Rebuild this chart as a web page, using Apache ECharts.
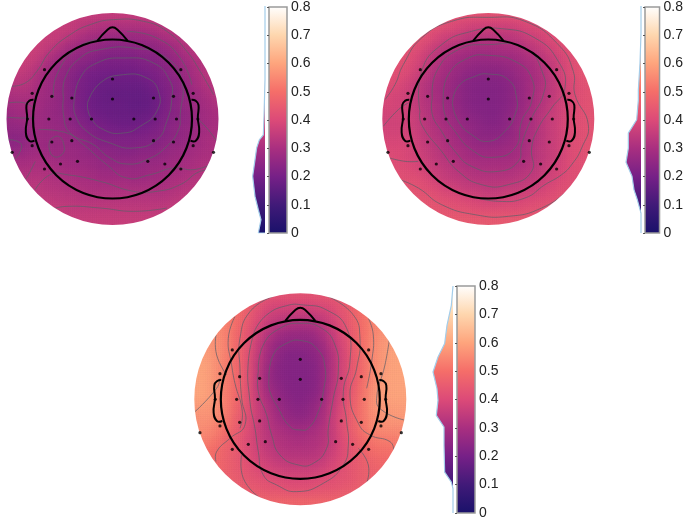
<!DOCTYPE html>
<html>
<head>
<meta charset="utf-8">
<title>topoplots</title>
<script src="https://cdn.jsdelivr.net/npm/echarts@6/dist/echarts.min.js"></script>
<style>
  html, body { margin: 0; padding: 0; background: #fff; }
  #main { width: 686px; height: 521px; }
</style>
</head>
<body>
<div id="main"></div>
<script>
// colour scale of the bars, bottom to top, one colour per 0.1
const scaleColors = ['#19116a', '#401a78', '#762087', '#a92f80', '#dc4a78', '#f56e69', '#fea57d', '#fed7af', '#ffffff'];

// scalp values in hundredths, 21 x 21 cells, top row first
const field1 = [
  [36,36,36,36,36,36,36,36,36,36,36,36,36,36,36,36,36,36,36,36,36],
  [36,36,36,36,36,36,36,35,34,33,33,33,33,33,34,34,35,36,36,36,36],
  [36,36,36,36,36,36,35,33,31,30,29,29,29,29,30,32,33,34,35,36,36],
  [37,37,37,37,36,34,31,29,27,26,25,25,25,26,26,28,30,33,34,35,36],
  [37,37,37,36,33,30,27,26,25,24,23,23,23,24,24,25,27,30,33,34,35],
  [37,37,36,34,30,27,26,24,23,21,21,21,21,22,23,24,26,28,31,33,34],
  [36,35,34,31,28,26,24,22,20,20,19,19,19,20,21,23,25,27,30,33,34],
  [32,33,33,30,28,26,24,21,20,18,18,18,18,18,20,22,24,26,29,32,33],
  [31,31,31,29,28,26,24,21,19,18,17,17,17,17,18,21,24,26,28,30,33],
  [29,29,30,29,27,26,24,21,19,18,18,18,17,17,18,21,24,26,28,29,31],
  [27,28,29,28,27,26,25,22,20,19,18,18,18,18,19,22,24,25,27,29,30],
  [26,26,27,28,27,27,25,24,22,21,20,19,19,20,21,23,25,26,27,29,30],
  [25,24,26,28,27,27,27,25,24,22,22,22,22,22,23,24,25,26,28,30,31],
  [26,25,27,28,27,27,27,27,25,24,24,23,23,24,24,25,27,27,29,30,31],
  [29,29,29,30,29,28,28,27,27,26,25,25,25,26,26,27,28,29,30,31,31],
  [31,31,31,31,31,30,29,29,28,27,27,27,27,27,28,28,29,30,31,32,32],
  [33,33,33,33,32,31,31,30,30,29,29,29,28,28,29,29,31,31,33,33,33],
  [34,34,34,34,33,33,32,32,31,31,31,31,31,31,31,31,32,33,34,34,34],
  [35,35,35,35,35,34,34,33,33,33,33,33,33,33,33,33,34,35,35,35,35],
  [36,36,36,36,36,36,35,35,35,35,35,35,35,35,35,35,36,36,36,36,36],
  [36,36,36,36,36,36,36,36,36,36,36,36,36,36,36,36,36,36,36,36,36]
];
const field2 = [
  [44,44,44,44,44,44,44,44,44,44,44,44,44,44,44,44,44,44,44,44,44],
  [44,44,44,44,44,44,43,41,40,39,39,39,39,40,41,42,44,44,44,44,44],
  [44,44,44,44,43,41,39,38,36,35,35,35,35,36,38,39,41,43,44,44,44],
  [44,44,44,43,41,38,35,34,32,31,31,31,32,33,35,37,39,42,43,44,44],
  [44,44,43,41,38,34,32,30,29,28,28,29,29,30,32,34,37,39,42,43,44],
  [43,43,42,40,36,33,30,28,27,26,26,26,27,28,30,32,35,38,41,43,44],
  [43,42,41,38,35,31,29,27,25,24,24,24,25,27,29,31,34,38,41,43,44],
  [42,41,39,36,33,30,28,26,24,23,23,23,24,26,29,31,34,37,40,42,43],
  [40,39,38,36,33,30,28,26,24,23,23,23,24,26,29,32,34,37,40,42,43],
  [39,39,38,36,33,31,28,26,24,23,23,23,24,26,29,32,35,38,40,42,43],
  [38,38,38,37,34,31,29,27,25,24,23,23,25,27,30,33,36,38,41,42,43],
  [38,38,38,37,34,32,30,28,26,25,24,24,25,28,30,33,36,38,41,42,43],
  [39,39,39,38,35,33,31,29,27,25,25,25,26,28,31,33,36,38,41,42,43],
  [40,40,40,38,36,34,32,30,29,27,27,27,28,29,31,34,36,38,41,42,43],
  [41,41,40,39,37,35,33,32,30,29,29,29,29,30,32,34,36,38,41,42,43],
  [42,42,41,40,38,36,35,33,32,31,31,31,31,32,33,35,37,39,41,42,43],
  [43,43,42,42,41,38,36,35,34,33,33,33,33,34,35,36,38,40,42,42,43],
  [44,44,44,43,42,41,39,38,36,36,35,35,36,36,37,38,40,42,42,43,43],
  [44,44,44,44,44,43,42,41,40,39,38,38,39,39,40,41,42,43,43,44,44],
  [44,44,44,44,44,44,44,43,43,42,42,42,42,42,43,43,44,44,44,44,44],
  [45,45,45,45,45,45,45,45,45,45,45,45,45,45,45,45,45,45,45,45,45]
];
const field3 = [
  [55,55,55,55,53,50,47,45,44,44,44,44,44,45,47,50,53,55,55,55,55],
  [56,56,56,55,52,48,44,41,40,40,40,40,41,42,44,47,51,55,56,56,56],
  [56,56,56,54,50,46,42,38,37,36,36,36,37,39,43,46,50,54,56,56,56],
  [57,57,56,54,50,45,40,36,33,32,31,31,33,37,41,46,50,54,56,57,57],
  [58,57,56,54,49,44,38,33,29,27,27,27,30,35,40,45,50,54,57,58,58],
  [59,58,57,54,49,44,37,30,26,25,25,25,27,33,39,45,50,55,58,59,59],
  [60,59,57,54,49,43,36,29,25,23,23,24,26,31,38,44,49,55,58,60,60],
  [60,60,57,53,49,43,35,28,24,23,23,23,25,31,38,44,49,55,58,60,60],
  [60,60,57,53,49,43,35,27,24,23,23,23,25,31,38,44,49,55,59,60,60],
  [60,60,57,53,49,43,35,28,25,23,23,23,25,32,38,44,50,56,59,60,60],
  [60,60,57,53,49,43,36,30,26,24,23,24,26,33,39,45,51,57,59,60,60],
  [58,58,57,53,48,43,37,32,27,25,24,25,28,34,40,46,51,57,58,59,59],
  [57,57,56,52,47,42,37,33,29,26,25,26,29,35,41,46,51,56,57,58,58],
  [56,56,54,50,46,42,37,33,31,29,28,29,31,35,41,46,51,55,56,56,56],
  [55,54,52,48,45,41,37,34,32,31,30,31,32,35,40,45,49,52,53,53,54],
  [53,51,50,47,45,41,38,35,33,32,32,32,33,36,40,44,47,50,51,51,51],
  [51,50,49,47,45,42,39,37,35,34,34,34,35,38,41,44,46,48,49,49,49],
  [50,49,49,47,45,43,41,39,38,37,37,37,38,40,42,44,46,47,48,48,48],
  [49,49,48,47,46,44,43,42,41,40,40,40,41,42,43,44,46,47,47,47,47],
  [49,49,48,47,47,46,45,44,44,43,43,43,44,44,45,46,47,47,47,47,47],
  [48,48,48,48,48,48,48,48,48,48,48,48,48,48,48,48,48,48,48,48,48]
];

// contour lines, read in crop units (3 per pixel, y down)
const contours1 = [
  [[262,265],[300,205],[370,180],[440,190],[475,230],[470,290],[420,335],[370,355],[310,345],[270,305],[262,265]],
  [[222,260],[240,190],[290,145],[370,130],[460,145],[510,200],[515,250],[500,320],[470,375],[400,400],[330,385],[260,350],[225,300],[222,260]],
  [[190,250],[195,190],[240,130],[300,105],[400,100],[500,130],[545,200],[540,300],[535,345],[500,395],[440,435],[380,448],[330,430],[280,390],[210,355],[190,300],[190,250]],
  [[160,250],[170,180],[230,100],[290,75]],
  [[380,50],[470,70],[540,130],[575,210]],
  [[35,215],[75,205],[110,170],[150,110],[210,60],[270,30],[340,15],[430,20],[500,50],[560,110],[600,170],[640,240]],
  [[25,265],[75,265],[105,285]],
  [[22,308],[60,310],[105,310]],
  [[22,375],[60,385],[60,410],[40,435],[25,440]],
  [[150,375],[175,365],[192,395],[185,420],[160,425],[147,400],[150,375]],
  [[115,345],[200,355],[250,390],[320,450],[380,490],[450,480],[520,460],[580,465],[630,450]],
  [[105,525],[150,480],[200,480],[300,500],[400,530],[470,530],[540,510],[600,470],[640,470]],
  [[105,440],[85,480],[70,500]],
  [[150,585],[200,575],[300,580],[400,590],[500,580]],
  [[590,310],[620,340],[650,380]]
];
const contours2 = [
  [[232,265],[250,215],[300,185],[340,178],[400,195],[425,250],[420,300],[390,350],[340,380],[290,360],[250,320],[232,265]],
  [[205,250],[220,180],[280,130],[340,122],[420,140],[470,190],[470,260],[440,320],[420,400],[350,428],[290,405],[240,350],[210,300],[205,250]],
  [[172,250],[185,170],[250,105],[340,90],[450,100],[505,180],[505,240],[470,310],[440,390],[430,440],[370,470],[290,455],[240,410],[200,350],[172,300],[172,250]],
  [[135,290],[140,170],[200,90],[290,50],[380,42],[480,70],[550,140],[570,220],[530,280],[490,340],[470,400],[470,470],[400,510],[320,510],[250,470],[200,410],[140,330],[135,290]],
  [[30,255],[60,210],[85,150],[140,70],[230,20],[340,8],[450,20],[550,90],[595,170],[600,240],[640,330],[620,400],[590,450],[560,480],[510,510],[450,550],[370,560],[290,545]],
  [[25,335],[70,285],[100,265]],
  [[45,430],[90,440],[130,440]],
  [[75,495],[130,520],[200,570],[300,600],[400,605],[500,580],[590,520],[650,470]]
];
const contours3 = [
  [[237,250],[250,180],[290,145],[335,137],[380,160],[405,215],[400,290],[385,350],[355,400],[330,405],[300,395],[265,340],[240,290],[237,250]],
  [[205,230],[220,150],[270,100],[330,85],[395,100],[435,150],[445,230],[430,310],[415,400],[410,460],[370,505],[325,510],[270,480],[245,420],[230,360],[205,290],[205,230]],
  [[195,105],[230,60],[290,32],[340,30],[410,45],[470,100],[480,200],[460,290],[470,380],[475,450],[460,510],[400,565],[320,590],[260,570],[220,540],[205,470],[195,400],[180,320],[175,200],[195,105]],
  [[248,5],[180,50],[150,130],[150,220],[155,310],[165,390],[120,430],[80,470],[78,500]],
  [[415,5],[490,60],[510,130],[500,220],[480,300],[505,385],[540,420],[600,440],[612,465]],
  [[135,65],[115,130],[125,210],[135,265],[157,350],[150,400]],
  [[155,480],[160,550],[205,605]],
  [[535,70],[550,120],[545,200],[530,280]],
  [[505,460],[535,510],[530,565]],
  [[78,120],[80,180],[110,240]],
  [[15,350],[80,280],[90,250]],
  [[598,135],[585,210],[560,310],[575,345],[642,375]]
];

// value distribution next to each bar: [width in crop units, value]
const hist1 = [[0,0],[20,0],[12,0.047],[20,0.082],[30,0.129],[37,0.2],[30,0.258],[25,0.3],[17,0.328],[5,0.346],[3,0.41],[0,0.54],[0,0.8]];
const hist2 = [[0,0],[0,0.07],[11,0.117],[21,0.152],[27,0.2],[45,0.249],[38,0.299],[38,0.352],[13,0.399],[8,0.469],[8,0.504],[3,0.598],[0,0.704],[0,0.8]];
const hist3 = [[0,0],[0,0.086],[5,0.109],[25,0.144],[27,0.238],[27,0.303],[50,0.344],[45,0.397],[48,0.438],[60,0.497],[45,0.55],[25,0.597],[18,0.661],[5,0.732],[0,0.8]];

// electrodes and head outline, relative to the head centre
const electrodes = [[-204,-148],[205,-148],[0,-120],[-241,-77],[-182,-68],[-122,-63],[0,-60],[123,-63],[183,-68],[242,-77],
  [-255,0],[-191,0],[-127,0],[-63,0],[64,0],[128,0],[192,0],[256,0],
  [-182,69],[-122,65],[123,65],[183,69],[-241,80],[242,80],[-301,100],[303,100],
  [-156,135],[-105,127],[106,127],[157,135],[-204,150],[205,150]];
const nose = [[-45,-235],[-15,-268],[0,-275],[15,-268],[45,-235]];
const earLeft = [[-237,-58],[-249,-55],[-258,-42],[-256,-3],[-260,40],[-250,65],[-234,65]];
const earRight = [[237,-58],[249,-55],[258,-42],[256,-3],[260,40],[250,65],[234,65]];

const plots = [
  { field: field1, contours: contours1, hist: hist1, crop: [337, 313], cx: 112.5, cy: 119, barLeft: 269, barTop: 6 },
  { field: field2, contours: contours2, hist: hist2, crop: [340, 313], cx: 488.3, cy: 119, barLeft: 645, barTop: 6 },
  { field: field3, contours: contours3, hist: hist3, crop: [331, 313], cx: 300.3, cy: 399.3, barLeft: 457, barTop: 286 }
];

const HALF = 330;
const CELL = 660 / 21;
const OUTER = 318;
const HEAD = 238.5;
const MESH = 6.6;
const BAR_H = 227;

const chart = echarts.init(document.getElementById('main'));

const grid = [], xAxis = [], yAxis = [], series = [], fieldSeries = [];

function gradientStops() {
  return scaleColors.map(function (c, i) {
    return { offset: i / (scaleColors.length - 1), color: c };
  });
}

// curved line drawn through points given in axis units
function curve(api, points, color, width) {
  return {
    type: 'polyline',
    shape: { points: points.map(function (q) { return api.coord(q); }), smooth: 0.5, smoothConstraint: false },
    style: { fill: 'none', stroke: color, lineWidth: width }
  };
}

plots.forEach(function (p) {
  // head panel
  const g = grid.length;
  grid.push({ left: p.cx - 110, top: p.cy - 110, width: 220, height: 220 });
  xAxis.push({ type: 'value', gridIndex: g, min: -HALF, max: HALF, show: false });
  yAxis.push({ type: 'value', gridIndex: g, min: -HALF, max: HALF, inverse: true, show: false });

  const cells = [];
  p.field.forEach(function (row, j) {
    row.forEach(function (v, i) {
      const x = (i - 10) * CELL, y = (j - 10) * CELL;
      if (Math.sqrt(x * x + y * y) < OUTER + 24) cells.push([x, y, v / 100]);
    });
  });

  fieldSeries.push(series.length);
  series.push({
    type: 'custom', xAxisIndex: g, yAxisIndex: g, z: 2, silent: true, data: cells,
    encode: { x: 0, y: 1 },
    renderItem: function (params, api) {
      const c = api.coord([api.value(0), api.value(1)]);
      const s = api.size([CELL, CELL]);
      return {
        type: 'rect',
        shape: { x: c[0] - s[0] / 2 - 0.5, y: c[1] - s[1] / 2 - 0.5, width: s[0] + 1, height: s[1] + 1 },
        style: { fill: api.visual('color') }
      };
    }
  });
  // soft spots over the cells so the blocks do not show
  fieldSeries.push(series.length);
  series.push({
    type: 'custom', xAxisIndex: g, yAxisIndex: g, z: 2, silent: true, data: cells,
    encode: { x: 0, y: 1 },
    renderItem: function (params, api) {
      const c = api.coord([api.value(0), api.value(1)]);
      const r = api.size([CELL, 0])[0] * 1.5;
      const col = api.visual('color');
      return {
        type: 'circle',
        shape: { cx: c[0], cy: c[1], r: r },
        style: {
          fill: {
            type: 'radial', x: 0.5, y: 0.5, r: 0.5,
            colorStops: [
              { offset: 0, color: echarts.color.modifyAlpha(col, 0.7) },
              { offset: 1, color: echarts.color.modifyAlpha(col, 0) }
            ]
          }
        }
      };
    }
  });

  // faint surface mesh, only across the disc
  series.push({
    type: 'custom', xAxisIndex: g, yAxisIndex: g, z: 3, silent: true, data: [[0, 0]],
    renderItem: function (params, api) {
      const kids = [];
      for (let d = -OUTER; d <= OUTER; d += MESH) {
        const half = Math.sqrt(Math.max(0, OUTER * OUTER - d * d));
        const a = api.coord([d, -half]), b = api.coord([d, half]);
        const c = api.coord([-half, d]), e = api.coord([half, d]);
        kids.push({ type: 'line', shape: { x1: a[0], y1: a[1], x2: b[0], y2: b[1] }, style: { stroke: 'rgba(50,0,70,0.025)', lineWidth: 0.7 } });
        kids.push({ type: 'line', shape: { x1: c[0], y1: c[1], x2: e[0], y2: e[1] }, style: { stroke: 'rgba(50,0,70,0.025)', lineWidth: 0.7 } });
      }
      return { type: 'group', children: kids };
    }
  });

  const lines = p.contours.map(function (line) {
    return line.map(function (q) { return [q[0] - p.crop[0], q[1] - p.crop[1]]; });
  });
  series.push({
    type: 'custom', xAxisIndex: g, yAxisIndex: g, z: 4, silent: true, data: lines.map(function (l, i) { return [i]; }),
    renderItem: function (params, api) {
      return curve(api, lines[params.dataIndex], 'rgba(95,95,105,0.8)', 0.9);
    }
  });

  // white ring that trims the field to a disc, then the head circle
  series.push({
    type: 'custom', xAxisIndex: g, yAxisIndex: g, z: 5, silent: true, data: [[0, 0]],
    renderItem: function (params, api) {
      const c = api.coord([0, 0]);
      const u = api.size([1, 0])[0];
      return {
        type: 'group',
        children: [
          { type: 'ring', shape: { cx: c[0], cy: c[1], r: (OUTER + 76) * u, r0: OUTER * u }, style: { fill: '#fff' } },
          { type: 'circle', shape: { cx: c[0], cy: c[1], r: HEAD * u }, style: { fill: 'none', stroke: '#000', lineWidth: 2.2 } },
          curve(api, nose, '#000', 2),
          curve(api, earLeft, '#000', 2),
          curve(api, earRight, '#000', 2)
        ]
      };
    }
  });
  series.push({
    type: 'scatter', xAxisIndex: g, yAxisIndex: g, z: 7, silent: true,
    symbolSize: 3.2, itemStyle: { color: '#000' }, data: electrodes
  });

  // colour bar
  const b = grid.length;
  grid.push({ left: p.barLeft, top: p.barTop, width: 18, height: BAR_H });
  xAxis.push({ type: 'value', gridIndex: b, min: 0, max: 1, show: false });
  yAxis.push({
    type: 'value', gridIndex: b, min: 0, max: 0.8, interval: 0.1, position: 'right', z: 6,
    axisLine: { show: false }, splitLine: { show: false },
    axisTick: { show: true, inside: true, length: 2, lineStyle: { color: '#555' } },
    axisLabel: { color: '#222', fontSize: 14, fontFamily: 'Liberation Sans', margin: 4 }
  });
  series.push({
    type: 'custom', xAxisIndex: b, yAxisIndex: b, silent: true, data: [[0, 0]],
    renderItem: function (params, api) {
      const a = api.coord([0, 0.8]), d = api.coord([1, 0]);
      return {
        type: 'rect',
        shape: { x: a[0], y: a[1], width: d[0] - a[0], height: d[1] - a[1] },
        style: {
          fill: { type: 'linear', x: 0, y: 1, x2: 0, y2: 0, colorStops: gradientStops() },
          stroke: '#9a9a9a', lineWidth: 1.5
        }
      };
    }
  });

  // distribution, grows to the left of the bar
  const h = grid.length;
  grid.push({ left: p.barLeft - 4 - 22, top: p.barTop, width: 22, height: BAR_H });
  xAxis.push({ type: 'value', gridIndex: h, min: 0, max: 66, inverse: true, show: false });
  yAxis.push({ type: 'value', gridIndex: h, min: 0, max: 0.8, show: false });
  series.push({
    type: 'custom', xAxisIndex: h, yAxisIndex: h, silent: true, data: [[0, 0]],
    renderItem: function (params, api) {
      const low = api.coord([0, 0]), high = api.coord([0, 0.8]);
      return {
        type: 'polygon',
        shape: { points: p.hist.map(function (q) { return api.coord(q); }) },
        style: {
          fill: {
            type: 'linear', global: true,
            x: low[0], y: low[1], x2: high[0], y2: high[1],
            colorStops: gradientStops()
          }
        }
      };
    }
  });
  series.push({
    type: 'line', xAxisIndex: h, yAxisIndex: h, z: 3, silent: true,
    showSymbol: false, lineStyle: { color: '#a3cdea', width: 1.2 }, data: p.hist
  });
});

chart.setOption({
  animation: false,
  backgroundColor: '#fff',
  grid: grid,
  xAxis: xAxis,
  yAxis: yAxis,
  visualMap: {
    show: false, type: 'continuous', min: 0, max: 0.8, dimension: 2,
    seriesIndex: fieldSeries, inRange: { color: scaleColors }
  },
  series: series
});
</script>
</body>
</html>
